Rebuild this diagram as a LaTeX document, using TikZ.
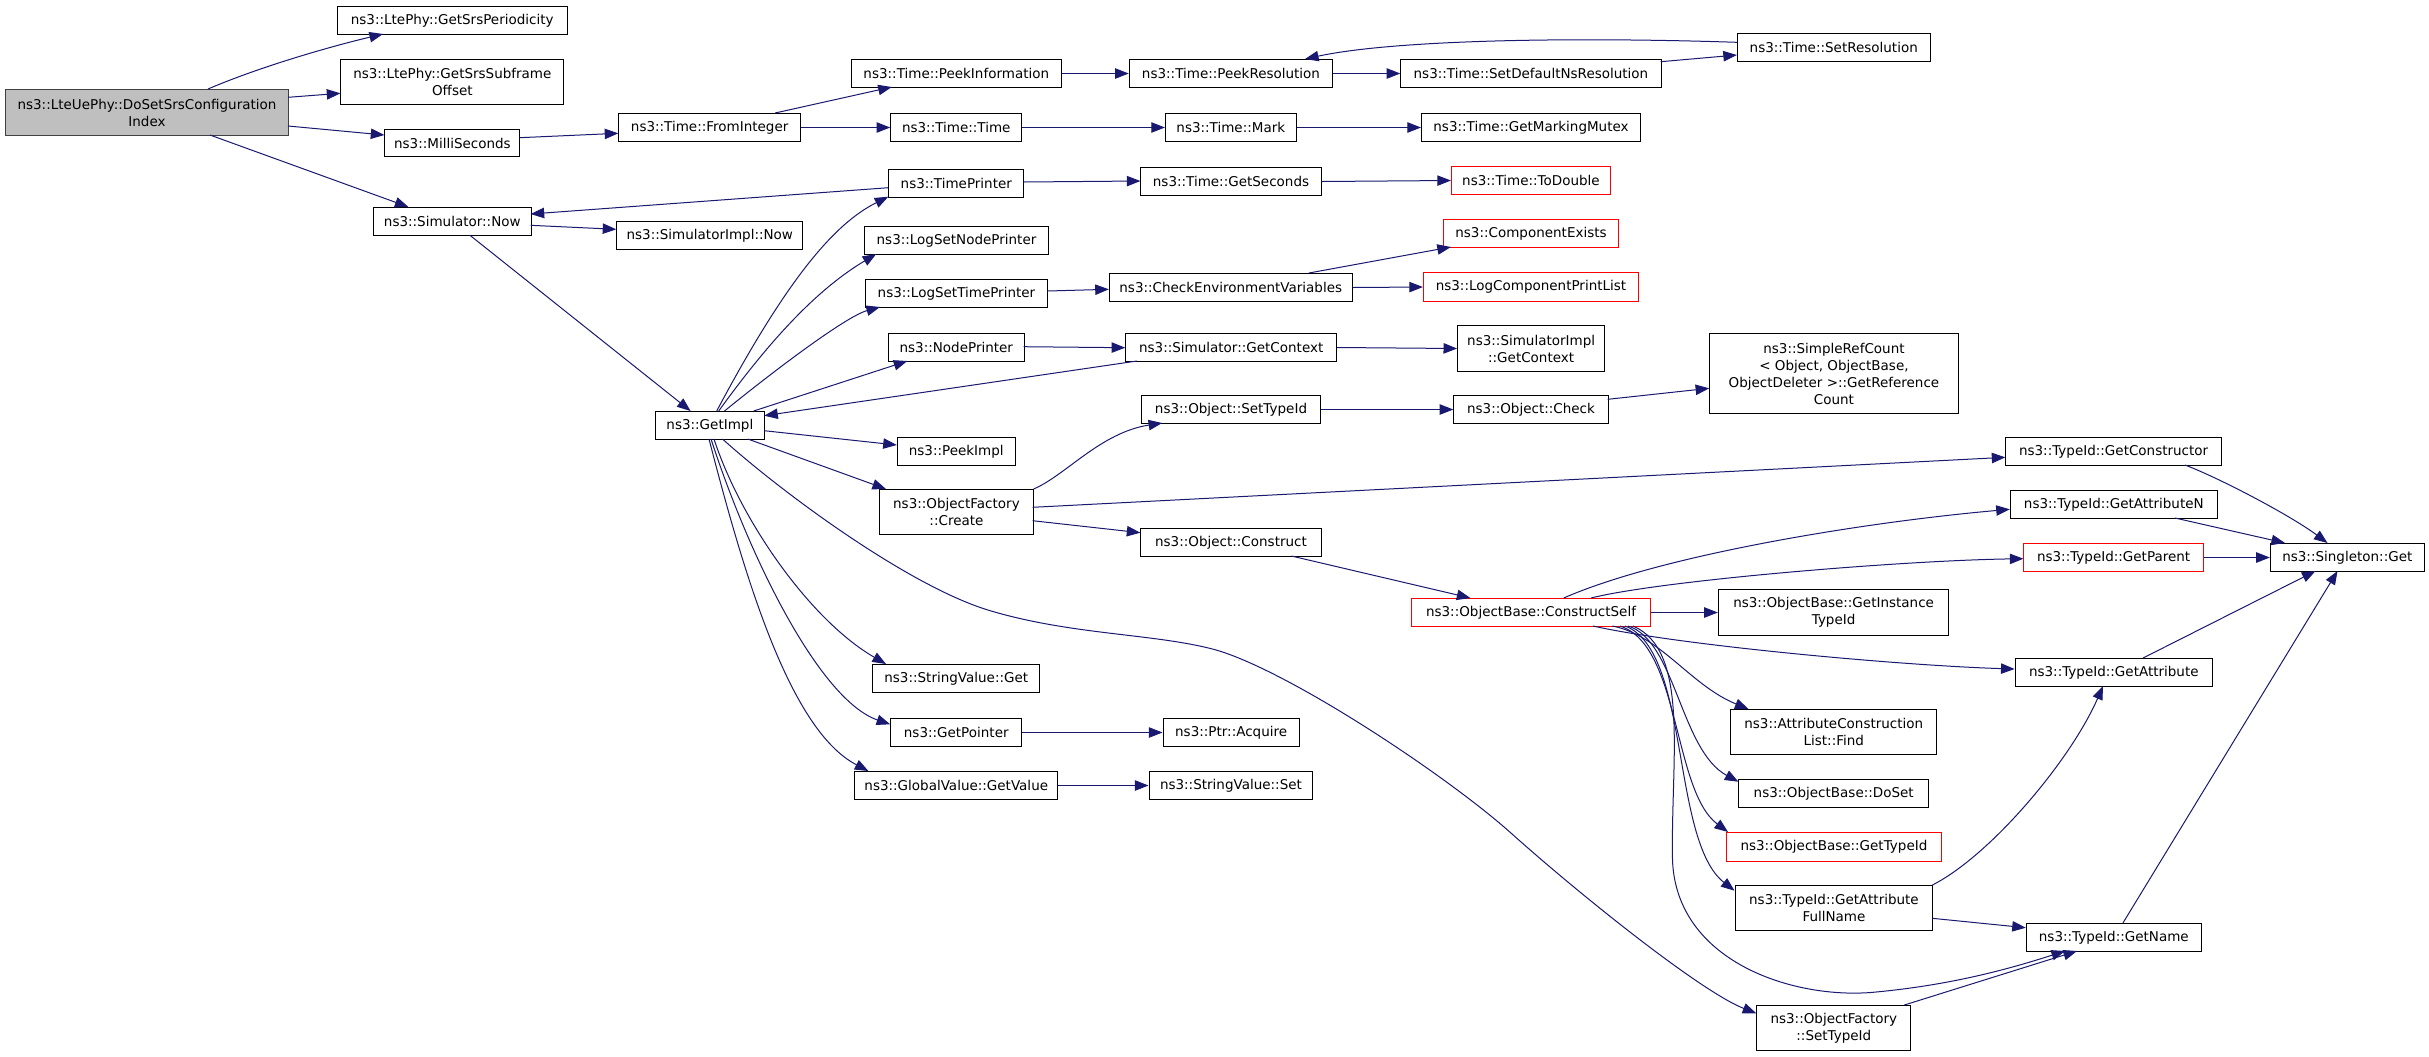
\documentclass[tikz,border=0pt]{standalone}
\usepackage{fontspec}
\setmainfont{DejaVu Sans}
\usetikzlibrary{arrows.meta,calc}
\definecolor{edgecol}{HTML}{191970}
\definecolor{hlfill}{HTML}{BFBFBF}
\definecolor{hlborder}{HTML}{404040}
\definecolor{trunc}{HTML}{FF0000}
\tikzset{
 box/.style={draw=black, line width=0.5pt, fill=white, inner sep=0pt, align=center, font=\fontsize{6.75}{8.5}\selectfont},
 hl/.style={fill=hlfill, draw=hlborder},
 cut/.style={draw=trunc},
 edge/.style={draw=edgecol, line width=0.5pt, -{Triangle[length=6.8pt,width=5.2pt]}}
}
\newcommand\nd[7][]{%
  \pgfmathsetmacro\ndcx{(#3+#5)/2}%
  \pgfmathsetmacro\ndcy{(#4+#6)/2}%
  \pgfmathsetmacro\ndw{(#5-#3)*0.5}%
  \pgfmathsetmacro\ndh{(#6-#4)*0.5}%
  \node[box,#1,minimum width=\ndw pt,minimum height=\ndh pt] (#2) at (\ndcx,\ndcy) {#7};}
\begin{document}
\begin{tikzpicture}[x=0.5pt,y=-0.5pt]
\fill[white] (0,0) rectangle (2429,1056);
\useasboundingbox (0,0) rectangle (2429,1056);
\begin{scope}[shift={(0.5,0.5)}]
% nodes
\nd[hl]{dosrs}{5}{89}{288}{135}{ns3::LteUePhy::DoSetSrsConfiguration\\Index}
\nd{srsper}{336.5}{6}{567}{34}{ns3::LtePhy::GetSrsPeriodicity}
\nd{srssub}{340.4}{59}{563.3}{104}{ns3::LtePhy::GetSrsSubframe\\Offset}
\nd{milli}{384.4}{129}{519.4}{156}{ns3::MilliSeconds}
\nd{simnow}{373}{207}{530.6}{235}{ns3::Simulator::Now}
\nd{fromint}{618.3}{113}{800}{141}{ns3::Time::FromInteger}
\nd{peekinfo}{851}{59}{1060.6}{87}{ns3::Time::PeekInformation}
\nd{timetime}{890.2}{113}{1021.3}{141}{ns3::Time::Time}
\nd{timeprinter}{888.3}{169}{1023.3}{197}{ns3::TimePrinter}
\nd{simimplnow}{616.3}{221}{802.3}{249}{ns3::SimulatorImpl::Now}
\nd{lsnp}{863.8}{226}{1048.2}{254}{ns3::LogSetNodePrinter}
\nd{lstp}{864.5}{279}{1047.4}{307}{ns3::LogSetTimePrinter}
\nd{nodeprinter}{887.9}{333}{1023.7}{361}{ns3::NodePrinter}
\nd{getimpl}{654.5}{411}{764.2}{439}{ns3::GetImpl}
\nd{peekimpl}{896.8}{437}{1014.7}{465}{ns3::PeekImpl}
\nd{ofcreate}{879.3}{489}{1032.6}{534}{ns3::ObjectFactory\\::Create}
\nd{svget}{872.3}{664}{1039.2}{692}{ns3::StringValue::Get}
\nd{getptr}{890.2}{718}{1021.3}{746}{ns3::GetPointer}
\nd{gvget}{854.4}{771}{1057.1}{799}{ns3::GlobalValue::GetValue}
\nd{peekres}{1128.7}{59}{1332.3}{87}{ns3::Time::PeekResolution}
\nd{setdef}{1400.3}{59}{1660.6}{87}{ns3::Time::SetDefaultNsResolution}
\nd{setres}{1736.9}{33}{1929.6}{61}{ns3::Time::SetResolution}
\nd{mark}{1164.9}{113}{1295.7}{141}{ns3::Time::Mark}
\nd{mutex}{1421}{113}{1640}{141}{ns3::Time::GetMarkingMutex}
\nd{getsec}{1140.4}{167}{1320.6}{195}{ns3::Time::GetSeconds}
\nd[cut]{todouble}{1450.9}{166}{1610}{194}{ns3::Time::ToDouble}
\nd{checkenv}{1108.8}{273}{1351.7}{301}{ns3::CheckEnvironmentVariables}
\nd[cut]{compex}{1442.8}{219}{1618.2}{247}{ns3::ComponentExists}
\nd[cut]{lcpl}{1422.9}{272}{1638.1}{301}{ns3::LogComponentPrintList}
\nd{simctx}{1125.2}{333}{1336.2}{361}{ns3::Simulator::GetContext}
\nd{simimplctx}{1457.1}{325}{1604.2}{371}{ns3::SimulatorImpl\\::GetContext}
\nd{srefc}{1709.2}{333}{1957.7}{413}{ns3::SimpleRefCount\\< Object, ObjectBase,\\ObjectDeleter >::GetReference\\Count}
\nd{objsettid}{1140.8}{395}{1320.2}{423}{ns3::Object::SetTypeId}
\nd{objcheck}{1453.3}{395}{1607.7}{423}{ns3::Object::Check}
\nd{objcons}{1140.4}{528}{1320.6}{556}{ns3::Object::Construct}
\nd[cut]{conself}{1410.9}{598}{1650.1}{626}{ns3::ObjectBase::ConstructSelf}
\nd{instid}{1717.8}{589}{1948.4}{635}{ns3::ObjectBase::GetInstance\\TypeId}
\nd{acfind}{1730.2}{709}{1936.4}{754}{ns3::AttributeConstruction\\List::Find}
\nd{doset}{1738.4}{779}{1928}{807}{ns3::ObjectBase::DoSet}
\nd[cut]{gettid}{1726}{832}{1940.8}{861}{ns3::ObjectBase::GetTypeId}
\nd{gafn}{1734.5}{885}{1932.4}{930}{ns3::TypeId::GetAttribute\\FullName}
\nd{ofsettid}{1756.3}{1005}{1910.3}{1050}{ns3::ObjectFactory\\::SetTypeId}
\nd{getcons}{2005.4}{437}{2220.8}{465}{ns3::TypeId::GetConstructor}
\nd{getattrn}{2009.8}{490}{2216.8}{518}{ns3::TypeId::GetAttributeN}
\nd[cut]{getparent}{2023.4}{543}{2202.8}{571}{ns3::TypeId::GetParent}
\nd{singget}{2269.8}{543}{2423.8}{571}{ns3::Singleton::Get}
\nd{getattr}{2014.6}{658}{2212}{686}{ns3::TypeId::GetAttribute}
\nd{getname}{2025.8}{923}{2200.8}{951}{ns3::TypeId::GetName}
\nd{ptracq}{1162.5}{718}{1298.8}{746}{ns3::Ptr::Acquire}
\nd{svset}{1148.5}{771}{1312.4}{799}{ns3::StringValue::Set}
% edges
\draw[edge] ($(dosrs.north west)+(203,0)$) .. controls (260,66) and (330,46) .. ($(srsper.north west)+(46.5,28)$);
\draw[edge] ($(dosrs.north west)+(283,8.3)$) -- ($(srssub.north west)+(0,34.3)$);
\draw[edge] ($(dosrs.north west)+(283,37)$) -- ($(milli.north west)+(0,6)$);
\draw[edge] ($(dosrs.north west)+(205,46)$) -- ($(simnow.north west)+(35.5,0)$);
\draw[edge] ($(milli.north west)+(135,8.7)$) -- ($(fromint.north west)+(0,20.3)$);
\draw[edge] ($(fromint.north west)+(156.8,0)$) -- ($(peekinfo.north west)+(40.8,28)$);
\draw[edge] (fromint.east) -- (timetime.west);
\draw[edge] (peekinfo.east) -- (peekres.west);
\draw[edge] (timetime.east) -- (mark.west);
\draw[edge] (mark.east) -- (mutex.west);
\draw[edge] (peekres.east) -- (setdef.west);
\draw[edge] ($(setdef.north west)+(260.3,2.7)$) -- ($(setres.north west)+(0,22)$);
\draw[edge] ($(setres.north west)+(0,9.3)$) .. controls (1560,36) and (1390,40) .. ($(peekres.north west)+(176.3,0)$);
\draw[edge] ($(timeprinter.north west)+(0,18.7)$) -- ($(simnow.north west)+(157.6,7)$);
\draw[edge] ($(simnow.north west)+(157.6,18.3)$) -- ($(simimplnow.north west)+(0,8.3)$);
\draw[edge] ($(timeprinter.north west)+(135,13)$) -- ($(getsec.north west)+(0,14)$);
\draw[edge] (getsec.east) -- (todouble.west);
\draw[edge] ($(simnow.north west)+(96.6,28)$) -- ($(getimpl.north west)+(36.1,0)$);
\draw[edge] ($(getimpl.north west)+(62.2,0)$) .. controls (784,283) and (832,224) .. ($(timeprinter.north west)+(0,27.7)$);
\draw[edge] ($(getimpl.north west)+(64.2,0)$) .. controls (777,329) and (823,285) .. ($(lsnp.north west)+(12.4,28)$);
\draw[edge] ($(getimpl.north west)+(70,0)$) .. controls (770,373) and (845,316) .. ($(lstp.north west)+(15.5,28)$);
\draw[edge] ($(getimpl.north west)+(99.2,0)$) -- ($(nodeprinter.north west)+(19.4,28)$);
\draw[edge] ($(simctx.north west)+(11.7,28)$) -- ($(getimpl.north west)+(109.7,4.7)$);
\draw[edge] ($(nodeprinter.north west)+(135.8,13.7)$) -- ($(simctx.north west)+(0,14.7)$);
\draw[edge] ($(lstp.north west)+(182.9,12)$) -- ($(checkenv.north west)+(0,16.3)$);
\draw[edge] ($(checkenv.north west)+(200.1,0)$) -- ($(compex.north west)+(8.1,28)$);
\draw[edge] (checkenv.east) -- (lcpl.west);
\draw[edge] (simctx.east) -- (simimplctx.west);
\draw[edge] ($(getimpl.north west)+(109.7,19.7)$) -- ($(peekimpl.north west)+(0,8)$);
\draw[edge] ($(getimpl.north west)+(93.3,28)$) -- ($(ofcreate.north west)+(6.7,0)$);
\draw[edge] (ofcreate.north east) .. controls (1065,475) and (1100,432) .. ($(objsettid.north west)+(21.4,28)$);
\draw[edge] (objsettid.east) -- (objcheck.west);
\draw[edge] ($(objcheck.north west)+(154.4,4.3)$) -- ($(srefc.north west)+(0,55.3)$);
\draw[edge] ($(ofcreate.north west)+(153.3,18.3)$) -- ($(getcons.north west)+(0,20.3)$);
\draw[edge] ($(ofcreate.north west)+(153.3,31.7)$) -- ($(objcons.north west)+(0,4.7)$);
\draw[edge] ($(objcons.north west)+(151,28)$) -- ($(conself.north west)+(59.5,0)$);
\draw[edge] ($(conself.north west)+(152.8,0)$) .. controls (1660,555) and (1860,522) .. ($(getattrn.north west)+(0,19.3)$);
\draw[edge] ($(conself.north west)+(180.1,0)$) .. controls (1660,580) and (1900,560) .. ($(getparent.north west)+(0,15.7)$);
\draw[edge] (conself.east) -- (instid.west);
\draw[edge] ($(conself.north west)+(182.1,28)$) .. controls (1680,645) and (1900,665) .. ($(getattr.north west)+(0,11)$);
\draw[edge] ($(conself.north west)+(201.5,28)$) .. controls (1660,635) and (1690,685) .. ($(acfind.north west)+(18.3,0)$);
\draw[edge] ($(conself.north west)+(217.1,28)$) .. controls (1675,640) and (1680,750) .. ($(doset.north west)+(0,2.7)$);
\draw[edge] ($(conself.north west)+(209.1,28)$) .. controls (1680,645) and (1672,790) .. ($(gettid.north west)+(2,0)$);
\draw[edge] ($(conself.north west)+(214.1,28)$) .. controls (1690,650) and (1670,840) .. ($(gafn.north west)+(0,5.7)$);
\draw[edge] ($(conself.north west)+(222.1,28)$) .. controls (1690,650) and (1670,760) .. (1672,860) .. controls (1676,960) and (1790,998) .. (1870,992) .. controls (1950,985) and (2010,968) .. ($(getname.north west)+(39.2,28)$);
\draw[edge] ($(gafn.north west)+(197.9,33.3)$) -- ($(getname.north west)+(0,4.7)$);
\draw[edge] ($(gafn.north west)+(197.9,0)$) .. controls (1990,855) and (2070,760) .. ($(getattr.north west)+(88.4,28)$);
\draw[edge] ($(ofsettid.north west)+(148,0)$) -- ($(getname.north west)+(51.2,28)$);
\draw[edge] ($(getimpl.north west)+(68,28)$) .. controls (782.5,493) and (909,586) .. (989,610) .. controls (1069,634) and (1150,633) .. (1210,648) .. controls (1280,665) and (1444,773) .. (1511,833) .. controls (1578,893) and (1700,991) .. ($(ofsettid.north west)+(0,8.3)$);
\draw[edge] ($(getimpl.north west)+(59.5,28)$) .. controls (740,520) and (810,620) .. ($(svget.north west)+(13.7,0)$);
\draw[edge] ($(getimpl.north west)+(56.5,28)$) .. controls (750,560) and (820,700) .. ($(getptr.north west)+(0,6.3)$);
\draw[edge] ($(getimpl.north west)+(54.5,28)$) .. controls (745,580) and (790,730) .. ($(gvget.north west)+(14,0)$);
\draw[edge] (getptr.east) -- (ptracq.west);
\draw[edge] (gvget.east) -- (svset.west);
\draw[edge] ($(getcons.north west)+(179.6,28)$) .. controls (2220,478) and (2290,515) .. ($(singget.north west)+(57.7,0)$);
\draw[edge] ($(getattrn.north west)+(165.2,28)$) -- ($(singget.north west)+(15.2,0)$);
\draw[edge] (getparent.east) -- (singget.west);
\draw[edge] ($(getattr.north west)+(128.4,0)$) -- ($(singget.north west)+(45.7,28)$);
\draw[edge] ($(getname.north west)+(97.1,0)$) -- ($(singget.north west)+(67.7,28)$);
\end{scope}
\end{tikzpicture}
\end{document}
